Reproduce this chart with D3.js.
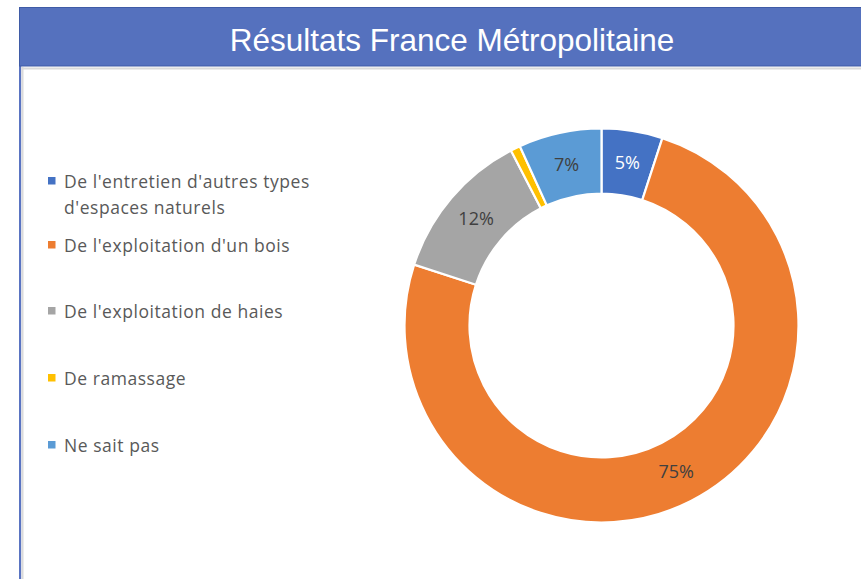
<!DOCTYPE html>
<html>
<head>
<meta charset="utf-8">
<script src="https://cdn.jsdelivr.net/npm/d3@7"></script>
<style>
  body { margin: 0; background: #fff; }
  svg { display: block; }
</style>
</head>
<body>
<div id="graph"></div>
<script>
// ------DATA------
const categories = [
  "De l'entretien d'autres types d'espaces naturels",
  "De l'exploitation d'un bois",
  "De l'exploitation de haies",
  "De ramassage",
  "Ne sait pas"
]
// legend lines (Excel wraps the first one)
const legendLines = [
  ["De l'entretien d'autres types", "d'espaces naturels"],
  ["De l'exploitation d'un bois"],
  ["De l'exploitation de haies"],
  ["De ramassage"],
  ["Ne sait pas"]
]
const shares = [5.0, 75.0, 12.4, 0.8, 6.8]
const colours = ["#4472C4", "#ED7D31", "#A5A5A5", "#FFC000", "#5B9BD5"]
const labelColours = ["#ffffff", "#404040", "#404040", "#404040", "#404040"]
const title = "Résultats France Métropolitaine"

// ------LAYOUT------
const width = 861, height = 579
const cx = 601.5, cy = 325.5
const outerR = 197, innerR = 132

const svg = d3.select('#graph').append('svg')
  .attr('width', width).attr('height', height)

// frame: left border lines + title bar
svg.append('rect').attr('x', 19).attr('y', 7).attr('width', 2.2).attr('height', height)
  .attr('fill', '#5A74C2')
svg.append('rect').attr('x', 21.5).attr('y', 67).attr('width', 2).attr('height', height)
  .attr('fill', '#DADADA')
svg.append('rect').attr('x', 21.5).attr('y', 67.5).attr('width', width).attr('height', 2)
  .attr('fill', '#DADADA')

svg.append('rect')
  .attr('x', 19.5).attr('y', 7.5).attr('width', 900).attr('height', 58.5)
  .attr('fill', '#5571BE').attr('stroke', '#3F5BA6').attr('stroke-width', 1)

svg.append('text')
  .attr('x', 452).attr('y', 51)
  .attr('text-anchor', 'middle')
  .style('font-family', "'Liberation Sans', Arial, sans-serif")
  .style('font-size', '31.5px')
  .style('fill', '#ffffff')
  .text(title)

// ------DONUT------
const pie = d3.pie().sort(null).value(d => d)
const arcs = pie(shares)
const arc = d3.arc().innerRadius(innerR).outerRadius(outerR)
const total = d3.sum(shares)

const g = svg.append('g').attr('transform', `translate(${cx}, ${cy})`)

g.selectAll('path').data(arcs).enter()
  .append('path')
    .attr('d', arc)
    .attr('fill', (d, i) => colours[i])
    .attr('stroke', '#ffffff')
    .attr('stroke-width', 2.2)

// percentage labels at the ring's mid radius (tiny slices left unlabelled)
g.selectAll('text.pct').data(arcs.filter(d => d.value / total >= 0.02)).enter()
  .append('text')
    .attr('class', 'pct')
    .attr('transform', d => `translate(${arc.centroid(d)})`)
    .attr('dy', '0.35em')
    .attr('text-anchor', 'middle')
    .style('font-family', "'Open Sans', 'Liberation Sans', sans-serif")
    .style('font-size', '18px')
    .style('fill', d => labelColours[d.index])
    .text(d => Math.round(d.value / total * 100) + '%')

// ------LEGEND------
const legendY = [181, 245, 311, 378, 445]
const legend = svg.append('g')

categories.forEach((c, i) => {
  const row = legend.append('g').attr('transform', `translate(48, ${legendY[i]})`)
  row.append('rect')
    .attr('x', 0).attr('y', -4).attr('width', 7.5).attr('height', 7.5)
    .attr('fill', colours[i])
  const t = row.append('text')
    .attr('x', 16).attr('y', 6.5)
    .style('font-family', "'Open Sans', 'Liberation Sans', sans-serif")
    .style('font-size', '17.5px')
    .style('letter-spacing', '0.55px')
    .style('fill', '#595959')
  legendLines[i].forEach((line, j) => {
    t.append('tspan').attr('x', 16).attr('dy', j === 0 ? 0 : 26).text(line)
  })
})
</script>
</body>
</html>
